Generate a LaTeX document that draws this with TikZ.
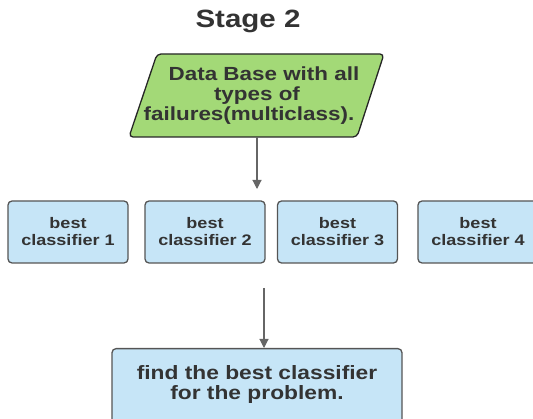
\documentclass[tikz,border=0pt]{standalone}
\usepackage{fontspec}
\setmainfont{Liberation Sans}[FakeStretch=1.18]
\usetikzlibrary{arrows.meta}
\definecolor{boxblue}{HTML}{C6E5F7}
\definecolor{dbgreen}{HTML}{A3D977}
\definecolor{edgegray}{HTML}{555555}
\definecolor{txtgray}{HTML}{333333}
\definecolor{arrowgray}{HTML}{666666}
\begin{document}
\begin{tikzpicture}[x=1pt,y=-1pt,
  clsbox/.style={draw=edgegray,line width=1.3pt,fill=boxblue,rounded corners=4pt,
    minimum width=120pt,minimum height=62pt,inner sep=0pt,align=center,
    text=txtgray,font=\bfseries\fontsize{15.3}{17}\selectfont},
  dbline/.style={text=txtgray,font=\bfseries\fontsize{19}{20}\selectfont,inner sep=0pt,anchor=base},
  conn/.style={draw=arrowgray,line width=1.1pt,-{Triangle[length=9pt,width=9pt]}}
]
\useasboundingbox (0,0) rectangle (533,419);
\begin{scope}
\clip (0,0) rectangle (533,419);
\node[text=txtgray,font=\bfseries\fontsize{25}{28}\selectfont] (title) at (248,21) {Stage 2};
% parallelogram
\draw[fill=dbgreen,draw=black!85,line width=1.3pt,rounded corners=4pt]
  (157,54) -- (384,54) -- (357,137) -- (129,137) -- cycle;
\node[dbline] (db1) at (264,81) {Data Base with all};
\node[dbline] (db2) at (257,101) {types of};
\node[dbline] (db3) at (249,121) {failures(multiclass).};
\coordinate (dbbot) at (257,137);
\coordinate (a1e) at (257,189);
\node[clsbox] (c1) at (68,232) {best\\classifier 1};
\node[clsbox] (c2) at (205,232) {best\\classifier 2};
\node[clsbox] (c3) at (337.5,232) {best\\classifier 3};
\node[clsbox] (c4) at (478,232) {best\\classifier 4};
\draw[conn] (dbbot) -- (a1e);
\coordinate (a2s) at (264,288);
\node[draw=edgegray,line width=1.3pt,fill=boxblue,rounded corners=4pt,
  minimum width=290pt,minimum height=100pt,anchor=north] (fb) at (257,348) {};
\node[align=center,text=txtgray,font=\bfseries\fontsize{19.3}{20}\selectfont,inner sep=0pt] (fbt) at (257,385)
  {find the best classifier\\for the problem.};
\draw[conn] (a2s) -- (a2s |- fb.north);
\end{scope}
\end{tikzpicture}
\end{document}
